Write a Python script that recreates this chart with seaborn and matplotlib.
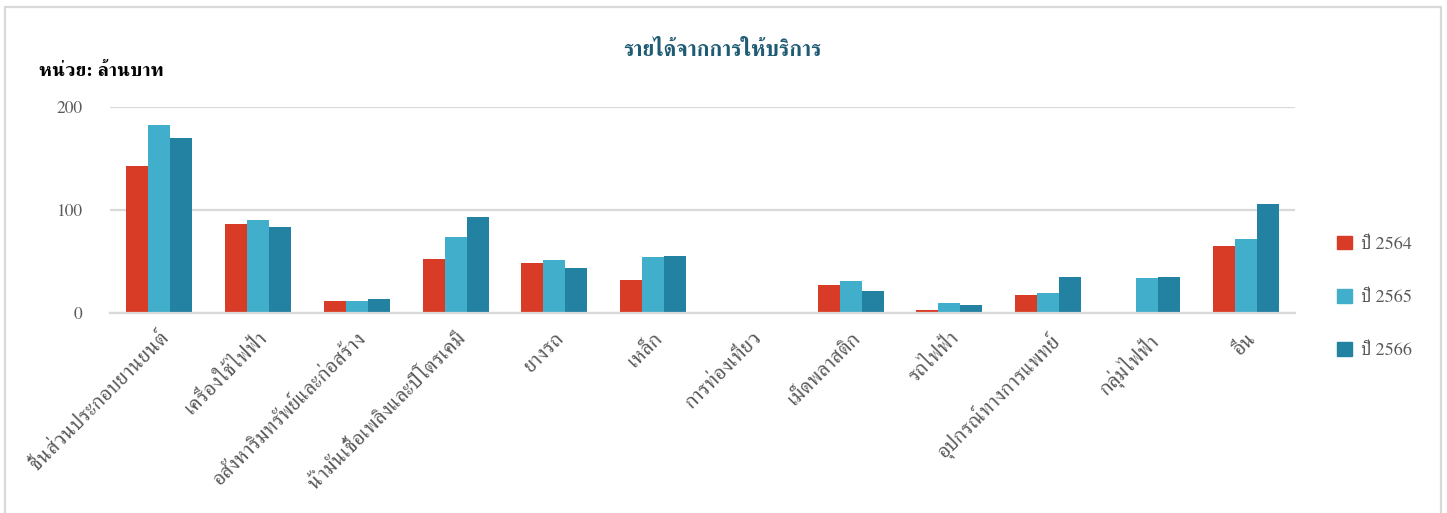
import matplotlib
matplotlib.use("Agg")
import matplotlib.pyplot as plt
from matplotlib.lines import Line2D
import seaborn as sns
import pandas as pd

categories = [
    "ชิ้นส่วนประกอบยานยนต์", "เครื่องใช้ไฟฟ้า", "อสังหาริมทรัพย์และก่อสร้าง",
    "น้ำมันเชื้อเพลิงและปิโตรเคมี", "ยางรถ", "เหล็ก", "การท่องเที่ยว",
    "เม็ดพลาสติก", "รถไฟฟ้า", "อุปกรณ์ทางการแพทย์", "กลุ่มไฟฟ้า", "อื่น",
]
series_names = ["ปี 2564", "ปี 2565", "ปี 2566"]
y2564 = [142.5, 86.7, 11.3, 52.4, 49.0, 31.8, 0.0, 26.7, 2.6, 17.9, 1.3, 64.9]
y2565 = [182.5, 90.3, 11.6, 73.4, 51.6, 53.9, 0.0, 30.6, 9.7, 19.2, 33.8, 71.4]
y2566 = [169.5, 83.1, 13.2, 92.8, 43.2, 55.2, 0.0, 21.8, 7.8, 35.4, 34.5, 105.5]
yticks = [0, 100, 200]

title = "รายได้จากการให้บริการ"
unit_label = "หน่วย: ล้านบาท"

colors = ["#D93C26", "#41AECB", "#2381A2"]

sns.set_theme(style="white")
plt.rcParams["font.family"] = ["FreeSerif", "DejaVu Sans"]

rows = []
for name, vals in zip(series_names, [y2564, y2565, y2566]):
    for c, v in zip(categories, vals):
        rows.append({"cat": c, "year": name, "value": v})
df = pd.DataFrame(rows)

fig = plt.figure(figsize=(14.47, 5.13), dpi=100)
ax = fig.add_axes([0.076, 0.3899, 0.819, 0.4015])

sns.barplot(data=df, x="cat", y="value", hue="year", order=categories,
            hue_order=series_names, palette=colors, width=0.67,
            saturation=1, ax=ax, edgecolor="none")

ax.set_ylim(0, 200)
ax.set_xlim(-0.5, len(categories) - 0.5)
ax.set_yticks(yticks)
ax.set_yticklabels([str(t) for t in yticks], fontsize=12.5, color="#595959")
ax.set_xlabel("")
ax.set_ylabel("")
ax.yaxis.grid(True, color="#d9d9d9", linewidth=1.6)
ax.set_axisbelow(True)
for s in ["top", "right", "left"]:
    ax.spines[s].set_visible(False)
ax.spines["bottom"].set_color("#d9d9d9")
ax.spines["bottom"].set_linewidth(1.6)
ax.tick_params(axis="y", length=0, pad=20)
ax.tick_params(axis="x", length=0, pad=11)
ax.set_xticks(range(len(categories)))
ax.set_xticklabels(categories, rotation=45, ha="right", rotation_mode="anchor",
                   fontsize=15.3, color="#595959")

ax.get_legend().remove()
handles = [plt.Rectangle((0, 0), 1, 1, color=c) for c in colors]
fig.legend(handles, series_names, loc="center left",
           bbox_to_anchor=(0.913, 0.420), frameon=False, fontsize=13,
           labelcolor="#595959", handlelength=0.8, handleheight=0.8,
           handletextpad=0.5, labelspacing=2.0)

fig.text(0.499, 0.902, title, ha="center", va="center", fontsize=15.5,
         fontweight="bold", color="#1F5C74")
fig.text(0.027, 0.86, unit_label, ha="left", va="center", fontsize=14,
         fontweight="bold", color="black")

bc = "#d9d9d9"
fig.add_artist(Line2D([5/1447, 5/1447], [0, 1 - 7/513], transform=fig.transFigure, color=bc, lw=1.6))
fig.add_artist(Line2D([5/1447, 1441/1447], [1 - 7/513, 1 - 7/513], transform=fig.transFigure, color=bc, lw=1.6))
fig.add_artist(Line2D([1441/1447, 1441/1447], [0, 1 - 7/513], transform=fig.transFigure, color=bc, lw=1.6))

fig.savefig("out.png", dpi=100)
